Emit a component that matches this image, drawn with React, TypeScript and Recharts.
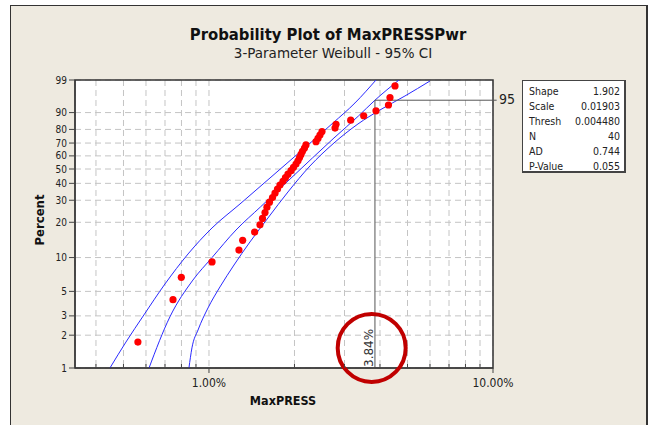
import React from "react";
import {
  ComposedChart,
  Line,
  Scatter,
  XAxis,
  YAxis,
  CartesianGrid,
  ReferenceLine,
  ReferenceDot,
  ReferenceArea,
} from "recharts";

const pctTicks = [1, 2, 3, 5, 10, 20, 30, 40, 50, 60, 70, 80, 90, 99];
const xTicks = [0.4, 0.5, 0.6, 0.7, 0.8, 0.9, 1, 2, 3, 4, 5, 6, 7, 8, 9, 10];
const xLabels: Record<number, string> = { 1: "1.00%", 10: "10.00%" };

// observed MaxPRESS (%) and plotted percent for each of the 40 points
const maxPress = [
  0.562, 0.747, 0.799, 1.025, 1.275, 1.314, 1.448, 1.512, 1.543, 1.575,
  1.6, 1.633, 1.674, 1.708, 1.743, 1.778, 1.822, 1.859, 1.897, 1.945,
  1.984, 2.025, 2.058, 2.084, 2.109, 2.134, 2.169, 2.195, 2.381, 2.42,
  2.459, 2.5, 2.778, 2.801, 3.155, 3.505, 3.873, 4.285, 4.338, 4.518,
];
const plotPct = [
  1.73, 4.21, 6.68, 9.16, 11.63, 14.11, 16.58, 19.06, 21.53, 24.01,
  26.49, 28.96, 31.44, 33.91, 36.39, 38.86, 41.34, 43.81, 46.29, 48.76,
  51.24, 53.71, 56.19, 58.66, 61.14, 63.61, 66.09, 68.56, 71.04, 73.51,
  75.99, 78.47, 80.94, 83.42, 85.89, 88.37, 90.84, 93.32, 95.79, 98.27,
];

// fitted line
const fitX = [0.615, 0.729, 0.878, 1.025, 1.245, 1.518, 1.913, 2.314, 2.755, 3.36, 3.84, 4.667];
const fitPct = [1, 2.95, 6.32, 10, 17.25, 26.6, 42.2, 58.4, 73.85, 88.26, 95, 99];

// 95% confidence bands
const upperX = [0.448, 0.51, 0.59, 0.7, 0.844, 1.025, 1.286, 1.64, 2.091, 2.733, 3.266, 3.873];
const upperPct = [1, 1.73, 3.06, 5.83, 10.75, 17.94, 28.07, 43.6, 63.06, 84.21, 94.07, 99];
const lowerX = [0.85, 0.871, 0.915, 0.992, 1.093, 1.225, 1.394, 1.613, 1.897, 2.268, 2.755, 3.346, 4.0, 4.898, 6.0];
const lowerPct = [1, 1.53, 2.23, 3.54, 5.48, 8.6, 13.65, 21.69, 34.64, 52.26, 70.06, 83.58, 91.23, 96.23, 98.9];

const statNames = ["Shape", "Scale", "Thresh", "N", "AD", "P-Value"];
const statValues = ["1.902", "0.01903", "0.004480", "40", "0.744", "0.055"];

const refX = 3.84;
const refPct = 95;

const xMin = 0.3375;
const font = "'DejaVu Sans Condensed', 'DejaVu Sans', sans-serif";

// weibull probability scale
const wb = (p: number) => Math.log(-Math.log(1 - p / 100));
const unWb = (v: number) => 100 * (1 - Math.exp(-Math.exp(v)));

const toPts = (xs: number[], ps: number[]) => xs.map((x, i) => ({ x, y: wb(ps[i]) }));

const points = toPts(maxPress, plotPct);
const fit = toPts(fitX, fitPct);
const upper = toPts(upperX, upperPct);
const lower = toPts(lowerX, lowerPct);

function XTick(props: any) {
  const { x, y, payload } = props;
  const axisY = y - 8;
  const label = xLabels[payload.value];
  if (!label) {
    return <line x1={x} x2={x} y1={axisY} y2={axisY - 4} stroke="#444" />;
  }
  return (
    <g>
      <line x1={x} x2={x} y1={axisY} y2={axisY + 5} stroke="#444" />
      <text x={x} y={axisY + 19} textAnchor="middle" fontSize={12} fill="#222" fontFamily={font}>
        {label}
      </text>
    </g>
  );
}

const refLabel = (props: any) => {
  const vb = props.viewBox || {};
  const bx = vb.x ?? 0;
  const by = (vb.y ?? 0) + (vb.height ?? 0);
  return (
    <text
      transform={`translate(${bx - 2}, ${by - 1}) rotate(-90)`}
      fontSize={12}
      fill="#333"
      fontFamily="'DejaVu Sans', sans-serif"
    >
      {refX.toFixed(2)}%
    </text>
  );
};

export default function App() {
  return (
    <div style={{ position: "relative", width: 652, height: 425, background: "#fff", fontFamily: font }}>
      <style>{`body{margin:0}`}</style>
      <div
        style={{
          position: "absolute",
          left: 10,
          top: 5,
          width: 635,
          height: 420,
          background: "#eeeae0",
          borderTop: "1px solid #333",
          borderLeft: "1px solid #333",
          borderRight: "2px solid #333",
        }}
      />
      <div style={{ position: "absolute", top: 0, left: 0 }}>
        <ComposedChart width={652} height={425} margin={{ top: 80, right: 159, bottom: 27, left: 35 }}>
          <CartesianGrid stroke="#c4c4c4" strokeDasharray="6 4" fill="#fff" />
          <XAxis
            type="number"
            dataKey="x"
            scale="log"
            domain={[xMin, 10]}
            ticks={xTicks}
            allowDataOverflow
            height={30}
            tickSize={5}
            tickMargin={3}
            tickLine={false}
            tick={<XTick />}
            axisLine={{ stroke: "#333" }}
            interval={0}
          />
          <YAxis
            type="number"
            dataKey="y"
            domain={[wb(1), wb(99)]}
            ticks={pctTicks.map(wb)}
            allowDataOverflow
            width={40}
            tickSize={6}
            tickMargin={2}
            interval={0}
            tickFormatter={(v: number) => String(Math.round(unWb(v)))}
            tick={{ fontSize: 10, fill: "#222", fontFamily: font }}
            tickLine={{ stroke: "#444" }}
            axisLine={{ stroke: "#333" }}
          />
          <Line data={upper} dataKey="y" type="monotone" dot={false} stroke="#2a2aff" strokeWidth={1} isAnimationActive={false} />
          <Line data={fit} dataKey="y" type="monotone" dot={false} stroke="#2a2aff" strokeWidth={1} isAnimationActive={false} />
          <Line data={lower} dataKey="y" type="monotone" dot={false} stroke="#2a2aff" strokeWidth={1} isAnimationActive={false} />
          <ReferenceLine
            segment={[{ x: refX, y: wb(1) }, { x: refX, y: wb(refPct) }]}
            stroke="#555"
            label={refLabel}
          />
          <ReferenceLine
            segment={[{ x: refX, y: wb(refPct) }, { x: 10.3, y: wb(refPct) }]}
            stroke="#555"
            ifOverflow="visible"
          />
          <Scatter
            data={points}
            isAnimationActive={false}
            shape={(p: any) => <circle cx={p.cx} cy={p.cy} r={3.6} fill="#ff0000" />}
          />
          <ReferenceArea x1={xMin} x2={10} y1={wb(1)} y2={wb(99)} fill="none" stroke="#333" strokeWidth={1.5} ifOverflow="visible" />
          <ReferenceDot
            x={3.74}
            y={wb(1.53)}
            r={34}
            fill="none"
            stroke="#c00000"
            strokeWidth={4}
            ifOverflow="visible"
          />
        </ComposedChart>
      </div>

      <div style={{ position: "absolute", left: 0, width: 656, top: 25, textAlign: "center", fontSize: 16.5, fontWeight: "bold", color: "#111" }}>
        Probability Plot of MaxPRESSPwr
      </div>
      <div
        style={{
          position: "absolute",
          left: 0,
          width: 666,
          top: 45,
          textAlign: "center",
          fontSize: 13.5,
          color: "#222",
          fontFamily: "'DejaVu Sans', sans-serif",
        }}
      >
        3-Parameter Weibull - 95% CI
      </div>
      <div
        style={{
          position: "absolute",
          left: 39,
          top: 220,
          transform: "translate(-50%, -50%) rotate(-90deg)",
          fontSize: 13,
          fontWeight: "bold",
          color: "#111",
          whiteSpace: "nowrap",
        }}
      >
        Percent
      </div>
      <div style={{ position: "absolute", left: 233, width: 100, top: 393, textAlign: "center", fontSize: 12.5, fontWeight: "bold", color: "#111" }}>
        MaxPRESS
      </div>
      <div style={{ position: "absolute", left: 499, top: 91, fontSize: 14, color: "#222" }}>{refPct}</div>
      <div
        style={{
          position: "absolute",
          left: 522,
          top: 80,
          width: 104,
          height: 93,
          background: "#fff",
          border: "1px solid #444",
          borderRightWidth: 2,
          borderBottomWidth: 2,
          boxSizing: "border-box",
          padding: "3px 4px 0 6px",
          fontSize: 10.5,
          color: "#222",
        }}
      >
        {statNames.map((n, i) => (
          <div key={n} style={{ display: "flex", justifyContent: "space-between", height: 15, lineHeight: "15px" }}>
            <span>{n}</span>
            <span>{statValues[i]}</span>
          </div>
        ))}
      </div>
    </div>
  );
}
